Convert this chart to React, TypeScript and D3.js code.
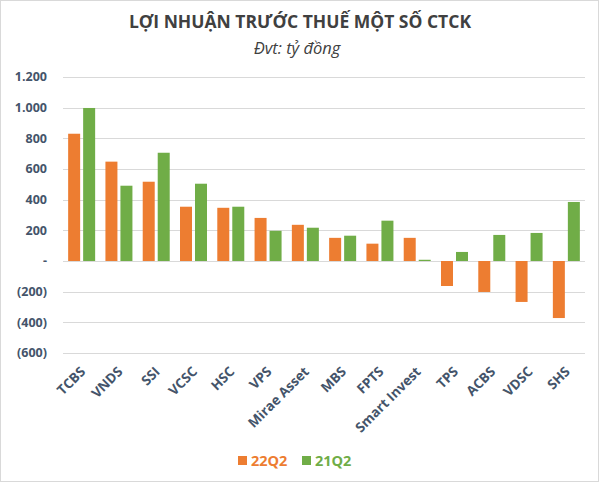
import React from "react";
import * as d3 from "d3";

const categories = ["TCBS", "VNDS", "SSI", "VCSC", "HSC", "VPS", "Mirae Asset", "MBS", "FPTS", "Smart Invest", "TPS", "ACBS", "VDSC", "SHS"];
const series = ["22Q2", "21Q2"];
const q22 = [830, 648, 517, 354, 347, 281, 236, 151, 113, 151, -163, -202, -267, -372];
const q21 = [998, 491, 706, 504, 354, 197, 217, 165, 263, 8, 59, 170, 183, 385];
const yTicks = [1200, 1000, 800, 600, 400, 200, 0, -200, -400, -600];
const colors = ["#ED7D31", "#70AD47"];

const W = 600;
const H = 482;
const FONT = "'Open Sans', 'Noto Sans', sans-serif";
const TEXT = "#44546A";

const fmt = (v: number) => {
  if (v === 0) return "-";
  const s = d3.format(",")(Math.abs(v)).replace(/,/g, ".");
  return v < 0 ? `(${s})` : s;
};

export default function App() {
  const x = d3.scaleBand<string>().domain(categories).range([63, 585]).padding(0);
  const xs = d3.scaleBand<string>().domain(series).range([0, 27]).paddingInner(0.2);
  const y = d3.scaleLinear().domain([-600, 1200]).range([353, 77]);
  const values = [q22, q21];

  return (
    <svg width={W} height={H} style={{ position: "absolute", left: 0, top: 0 }} fontFamily={FONT}>
      <rect x={0.5} y={0.5} width={598} height={481} fill="#fff" stroke="#D9D9D9" />
      <text x={300} y={28} textAnchor="middle" fontSize={17.5} fontWeight="bold" fill="#404040">
        LỢI NHUẬN TRƯỚC THUẾ MỘT SỐ CTCK
      </text>
      <text x={297} y={54} textAnchor="middle" fontSize={16.5} fontStyle="italic" fill="#404040">
        Đvt: tỷ đồng
      </text>

      {yTicks.map((t) => (
        <g key={t}>
          <line x1={63} x2={585} y1={Math.round(y(t)) + 0.5} y2={Math.round(y(t)) + 0.5} stroke="#D9D9D9" />
          <text x={47} y={y(t)} dy="0.35em" textAnchor="end" fontSize={12.5} fontWeight="bold" fill={TEXT}>
            {fmt(t)}
          </text>
        </g>
      ))}

      {categories.map((c, i) => {
        const off = (x(c) as number) + (x.bandwidth() - 27) / 2;
        return (
          <g key={c}>
            {series.map((s, k) => {
              const v = values[k][i];
              return (
                <rect
                  key={s}
                  x={off + (xs(s) as number)}
                  y={Math.min(y(v), y(0))}
                  width={xs.bandwidth()}
                  height={Math.abs(y(v) - y(0))}
                  fill={colors[k]}
                />
              );
            })}
            <text
              transform={`translate(${(x(c) as number) + x.bandwidth() / 2 + 4.5},${372.5}) rotate(-45)`}
              textAnchor="end"
              fontSize={13.5}
              fontWeight="bold"
              fill={TEXT}
            >
              {c}
            </text>
          </g>
        );
      })}

      {series.map((s, k) => {
        const lx = k === 0 ? 238 : 302;
        return (
          <g key={s}>
            <rect x={lx} y={456} width={9} height={9} fill={colors[k]} />
            <text x={lx + 13} y={465.5} fontSize={14.5} fontWeight="bold" fill={colors[k]}>
              {s}
            </text>
          </g>
        );
      })}
    </svg>
  );
}
